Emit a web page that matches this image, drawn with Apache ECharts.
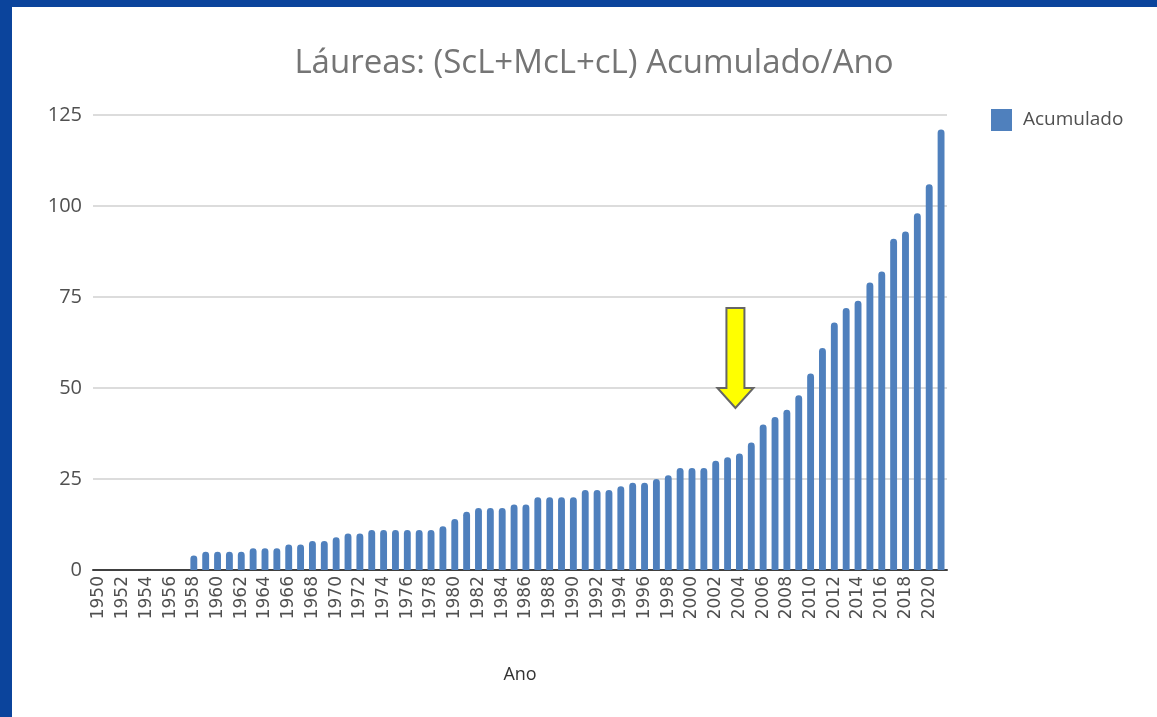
<!DOCTYPE html>
<html>
<head>
<meta charset="utf-8">
<script src="https://cdn.jsdelivr.net/npm/echarts@6/dist/echarts.min.js"></script>
<style>
html,body{margin:0;padding:0;background:#fff;}
#chart{width:1157px;height:717px;}
</style>
</head>
<body>
<div id="chart"></div>
<script>
const years = [];
for (let y = 1950; y <= 2021; y++) years.push(String(y));
const acumulado = [
  0, 0, 0, 0, 0, 0, 0, 0,
  4, 5, 5, 5, 5, 6, 6, 6, 7, 7, 8, 8,
  9, 10, 10, 11, 11, 11, 11, 11, 11, 12,
  14, 16, 17, 17, 17, 18, 18, 20, 20, 20,
  20, 22, 22, 22, 23, 24, 24, 25, 26, 28,
  28, 28, 30, 31, 32, 35, 40, 42, 44, 48,
  54, 61, 68, 72, 74, 79, 82, 91, 93, 98,
  106, 121
];
const yTicks = [0, 25, 50, 75, 100, 125];
const titleText = 'Láureas: (ScL+McL+cL) Acumulado/Ano';
const seriesName = 'Acumulado';
const xName = 'Ano';
// arrow annotation anchored in data space
const arrowYear = '2004';
const arrowTop = 72, arrowHeadBase = 50, arrowTip = 44.5;

const chart = echarts.init(document.getElementById('chart'));
const option = {
  backgroundColor: '#ffffff',
  animation: false,
  title: {
    text: titleText,
    left: 589, top: 42, textAlign: 'center',
    textStyle: {fontFamily: 'Open Sans', fontSize: 33, fontWeight: 'normal', color: '#757575'}
  },
  legend: {
    data: [seriesName],
    left: 986, top: 104,
    itemWidth: 21, itemHeight: 22, itemGap: 10,
    icon: 'rect',
    textStyle: {fontFamily: 'Open Sans', fontSize: 19, color: '#505050', padding: [0,0,0,6]}
  },
  grid: {left: 93, right: 210, top: 115, bottom: 147, containLabel: false},
  xAxis: {
    type: 'category',
    data: years,
    name: xName,
    nameLocation: 'middle',
    nameGap: 96,
    nameTextStyle: {fontFamily: 'Open Sans', fontSize: 18, color: '#333333'},
    axisLine: {lineStyle: {color: '#404040', width: 2}},
    axisTick: {show: false},
    axisLabel: {
      interval: 1, rotate: 90, margin: 6,
      fontFamily: 'DejaVu Sans', fontSize: 17, color: '#505050'
    }
  },
  yAxis: {
    type: 'value',
    min: yTicks[0], max: yTicks[yTicks.length - 1], interval: 25,
    axisLine: {show: false},
    axisTick: {show: false},
    axisLabel: {margin: 11, fontFamily: 'Open Sans', fontSize: 20, color: '#505050'},
    splitLine: {lineStyle: {color: '#d0d0d0', width: 1.5}}
  },
  series: [{
    name: seriesName,
    type: 'bar',
    data: acumulado,
    barCategoryGap: '42%',
    itemStyle: {color: '#4f80bd', borderRadius: [3.5, 3.5, 0, 0]}
  }]
};
chart.setOption(option);

const [cx, yTopPx] = chart.convertToPixel({xAxisIndex: 0, yAxisIndex: 0}, [arrowYear, arrowTop]);
const yHeadPx = chart.convertToPixel({yAxisIndex: 0}, arrowHeadBase);
const yTipPx = chart.convertToPixel({yAxisIndex: 0}, arrowTip);
const ax = cx - 4;
chart.setOption({
  graphic: [
    {type: 'rect', shape: {x: 0, y: 0, width: 1157, height: 7}, style: {fill: '#0b449c'}, z: 100},
    {type: 'rect', shape: {x: 0, y: 0, width: 12, height: 717}, style: {fill: '#0b449c'}, z: 100},
    {type: 'polygon', z: 100,
      shape: {points: [
        [ax - 9, yTopPx], [ax + 9, yTopPx], [ax + 9, yHeadPx], [ax + 18, yHeadPx],
        [ax, yTipPx], [ax - 18, yHeadPx], [ax - 9, yHeadPx]
      ]},
      style: {fill: '#ffff00', stroke: '#666666', lineWidth: 2}
    }
  ]
});
</script>
</body>
</html>
